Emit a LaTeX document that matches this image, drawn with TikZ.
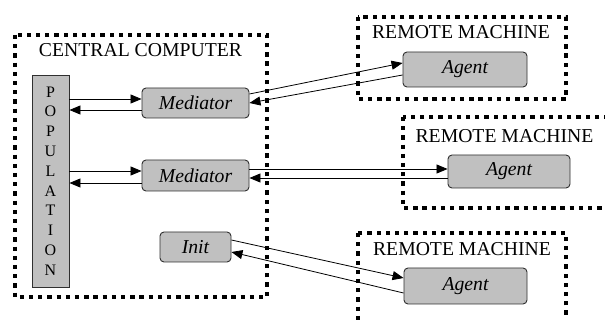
\documentclass[tikz,border=0pt]{standalone}
\usepackage{fontspec}
\setmainfont{Liberation Serif}
\usetikzlibrary{arrows.meta,calc}
\definecolor{boxgray}{HTML}{C0C0C0}
\definecolor{edgegray}{HTML}{303030}
\tikzset{
  procbox/.style={draw=edgegray, line width=0.9pt, fill=boxgray, rounded corners=4pt,
    inner sep=0pt, font=\fontsize{19.7}{22}\selectfont\itshape},
  popbox/.style={draw=edgegray, line width=0.9pt, fill=boxgray, inner sep=0pt,
    minimum width=37pt, minimum height=212pt, align=center,
    font=\fontsize{16}{19.8}\selectfont},
  region/.style={line width=4.2pt, dash pattern=on 4.3pt off 4.9pt},
  title/.style={anchor=base, inner sep=0pt, font=\fontsize{19.7}{22}\selectfont},
  arr/.style={line width=0.8pt, -{Triangle[length=11pt,width=9pt]}},
}
\begin{document}
\begin{tikzpicture}[x=1pt,y=-1pt]
\useasboundingbox (0,0) rectangle (605,320);
\clip (0,0) rectangle (605,320);
\fill[white] (0,0) rectangle (605,320);

% regions
\draw[region] (15,35) rectangle (267,297);
\draw[region] (358,17) rectangle (566,99);
\draw[region] (403,117) rectangle (640,208);
\draw[region] (358,233) rectangle (566,340);

% titles
\node[title] (tcc) at (140.5,57) {CENTRAL COMPUTER};
\node[title] (tr1) at (461,39) {REMOTE MACHINE};
\node[title] (tr2) at (504.5,142.7) {REMOTE MACHINE};
\node[title] (tr3) at (462,256) {REMOTE MACHINE};

% boxes
\node[popbox] (pop) at (50.5,181) {P\\O\\P\\U\\L\\A\\T\\I\\O\\N};
\node[procbox, minimum width=107pt, minimum height=30pt] (med1) at (195.5,103) {Mediator};
\node[procbox, minimum width=107pt, minimum height=31pt] (med2) at (195.5,175.5) {Mediator};
\node[procbox, minimum width=71pt, minimum height=30pt] (init) at (195.5,247) {Init};
\node[procbox, minimum width=124pt, minimum height=35pt] (ag1) at (465,69.5) {Agent};
\node[procbox, minimum width=122pt, minimum height=33pt] (ag2) at (509,171.5) {Agent};
\node[procbox, minimum width=123pt, minimum height=36pt] (ag3) at (465.5,286) {Agent};

% population <-> mediators
\draw[arr] ($(pop.east|-med1.west)+(0,-4)$) -- ($(med1.west)+(0,-4)$);
\draw[arr] ($(med1.west)+(0,7)$) -- ($(pop.east|-med1.west)+(0,7)$);
\draw[arr] ($(pop.east|-med2.west)+(0,-4.5)$) -- ($(med2.west)+(0,-4.5)$);
\draw[arr] ($(med2.west)+(0,7.5)$) -- ($(pop.east|-med2.west)+(0,7.5)$);

% mediators <-> agents
\draw[arr] ($(med1.east)+(0,-9)$) -- ($(ag1.west)+(0,-6.5)$);
\draw[arr] ($(ag1.west)+(0,5.5)$) -- ($(med1.east)+(0,0)$);
\draw[arr] ($(med2.east)+(0,-6.5)$) -- ($(ag2.west)+(0,-2.5)$);
\draw[arr] ($(ag2.west)+(0,6.5)$) -- ($(med2.east)+(0,2.5)$);

% init <-> agent
\draw[arr] ($(init.east)+(0,-7)$) -- ($(ag3.west)+(0,-8)$);
\draw[arr] ($(ag3.west)+(0,7)$) -- ($(init.east)+(0,5)$);
\end{tikzpicture}
\end{document}
